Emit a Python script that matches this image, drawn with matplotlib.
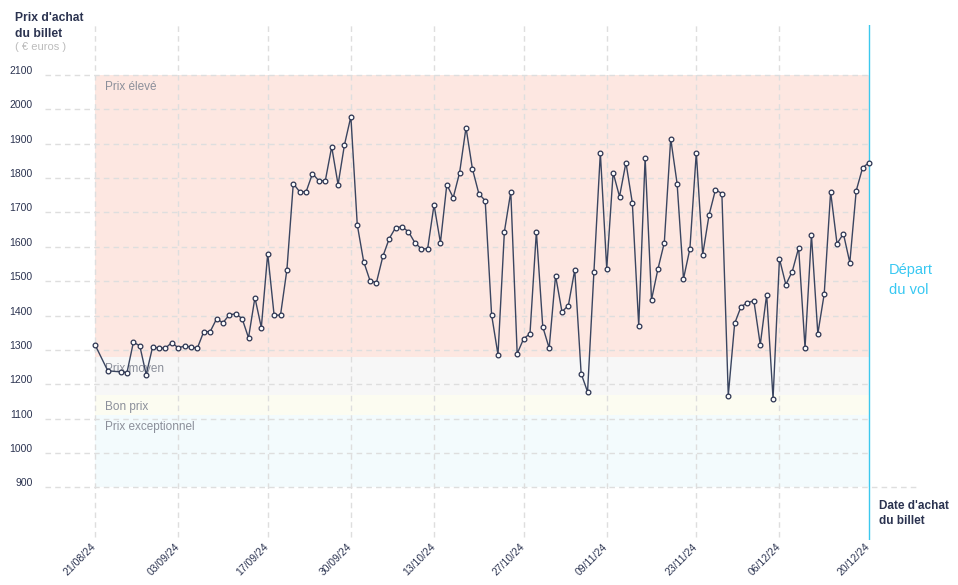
import matplotlib
matplotlib.use("Agg")
import matplotlib.pyplot as plt
import matplotlib.dates as mdates
import matplotlib.transforms as mtransforms
import pandas as pd
import numpy as np

plt.rcParams['font.family'] = ['Liberation Sans', 'DejaVu Sans']

# ---- data ----
dates = pd.date_range('2024-08-21', '2024-12-20').drop(pd.to_datetime(['2024-08-22', '2024-08-24']))
prices = [1315, 1239, 1236, 1234, 1322, 1312, 1228, 1308, 1305, 1305,
          1321, 1306, 1311, 1308, 1305, 1353, 1353, 1390, 1379, 1402,
          1405, 1391, 1335, 1452, 1365, 1580, 1401, 1401, 1533, 1784,
          1760, 1760, 1813, 1792, 1792, 1891, 1781, 1897, 1979, 1664,
          1557, 1501, 1496, 1572, 1624, 1656, 1658, 1644, 1612, 1594,
          1594, 1722, 1612, 1781, 1743, 1816, 1947, 1827, 1755, 1734,
          1402, 1286, 1644, 1760, 1289, 1332, 1347, 1644, 1367, 1305,
          1516, 1411, 1429, 1533, 1231, 1178, 1528, 1874, 1536, 1816,
          1746, 1845, 1728, 1370, 1859, 1446, 1535, 1612, 1915, 1784,
          1507, 1594, 1874, 1577, 1693, 1766, 1755, 1167, 1377, 1426,
          1437, 1443, 1315, 1461, 1158, 1565, 1490, 1528, 1597, 1306,
          1635, 1347, 1463, 1760, 1609, 1638, 1554, 1763, 1830, 1845]

tick_dates = ['2024-08-21', '2024-09-03', '2024-09-17', '2024-09-30', '2024-10-13',
              '2024-10-27', '2024-11-09', '2024-11-23', '2024-12-06', '2024-12-20']
tick_labels = ['21/08/24', '03/09/24', '17/09/24', '30/09/24', '13/10/24',
               '27/10/24', '09/11/24', '23/11/24', '06/12/24', '20/12/24']
y_ticks = [900, 1000, 1100, 1200, 1300, 1400, 1500, 1600, 1700, 1800, 1900, 2000, 2100]

band_names = ['Prix élevé', 'Prix moyen', 'Bon prix', 'Prix exceptionnel']
band_low = [1280, 1170, 1110, 900]
band_high = [2100, 1280, 1170, 1110]
band_colors = ['#fde7e1', '#f7f7f7', '#fcfcf1', '#f3fbfd']

# ---- figure ----
W, H = 958, 585
fig = plt.figure(figsize=(W / 100, H / 100), dpi=100)
ax = fig.add_axes([45 / W, (H - 540) / H, (918 - 45) / W, 515 / H])

d0 = mdates.date2num(pd.Timestamp('2024-08-21'))
d1 = mdates.date2num(pd.Timestamp('2024-12-20'))
ax.set_xlim(d0 - 7.817, d0 + 128.66)
ax.set_ylim(746.6, 2245.5)

for s in ax.spines.values():
    s.set_visible(False)

navy = '#2b3350'
grid_c = '#dedede'
dash = (0, (4, 3))

# bands
for name, lo, hi, col in zip(band_names, band_low, band_high, band_colors):
    ax.fill_between([d0, d1], [lo, lo], [hi, hi], color=col, lw=0, zorder=0)
    ax.annotate(name, xy=(d0, hi), xytext=(10, -12), textcoords='offset pixels',
                fontsize=8.5, color='#8b8f9a', va='center', ha='left', zorder=1)

# horizontal gridlines
for yv in y_ticks:
    ax.axhline(yv, xmin=0, xmax=(1.0 if yv == 900 else (868 - 45) / 873),
               color=grid_c, lw=1, ls=dash, zorder=1)

# vertical gridlines
tick_nums = [mdates.date2num(pd.Timestamp(t)) for t in tick_dates]
for tn in tick_nums[:-1]:
    ax.axvline(tn, ymin=3 / 515, ymax=1, color=grid_c, lw=1, ls=dash, zorder=1)

# departure line
ax.axvline(d1, ymin=0, ymax=1, color='#3cc8ee', lw=1, zorder=2)

# price line
ax.plot(mdates.date2num(dates), prices, color='#3a4560', lw=1, zorder=3,
        marker='o', markersize=3.4, markerfacecolor='white',
        markeredgecolor='#2b3350', markeredgewidth=0.9)

# ticks
ax.set_yticks(y_ticks)
ax.set_yticklabels([str(v) for v in y_ticks], fontsize=7.5, color=navy)
ax.tick_params(axis='y', length=0, pad=9)
off = mtransforms.ScaledTranslation(0, 0.05, fig.dpi_scale_trans)
for lab in ax.get_yticklabels():
    lab.set_transform(lab.get_transform() + off)

ax.set_xticks(tick_nums)
ax.set_xticklabels(tick_labels, fontsize=7.5, color=navy, rotation=45,
                   ha='right', va='top', rotation_mode='anchor')
ax.tick_params(axis='x', length=0, pad=2)
offx = mtransforms.ScaledTranslation(-0.04, 0.01, fig.dpi_scale_trans)
for lab in ax.get_xticklabels():
    lab.set_transform(lab.get_transform() + offx)

# texts
def fx(x):
    return x / W

def fy(y):
    return 1 - y / H

fig.text(fx(15), fy(18), "Prix d'achat", fontsize=8.7, fontweight='bold', color=navy, va='center', ha='left')
fig.text(fx(15), fy(34), "du billet", fontsize=8.7, fontweight='bold', color=navy, va='center', ha='left')
fig.text(fx(15), fy(47), "( € euros )", fontsize=8, color='#bcbcbc', va='center', ha='left')

fig.text(fx(879), fy(506), "Date d'achat", fontsize=8.5, fontweight='bold', color=navy, va='center', ha='left')
fig.text(fx(879), fy(521), "du billet", fontsize=8.5, fontweight='bold', color=navy, va='center', ha='left')

fig.text(fx(889), fy(270), "Départ", fontsize=10.5, color='#38c8f2', va='center', ha='left')
fig.text(fx(889), fy(290), "du vol", fontsize=10.5, color='#38c8f2', va='center', ha='left')

fig.savefig('out.png', dpi=100)
